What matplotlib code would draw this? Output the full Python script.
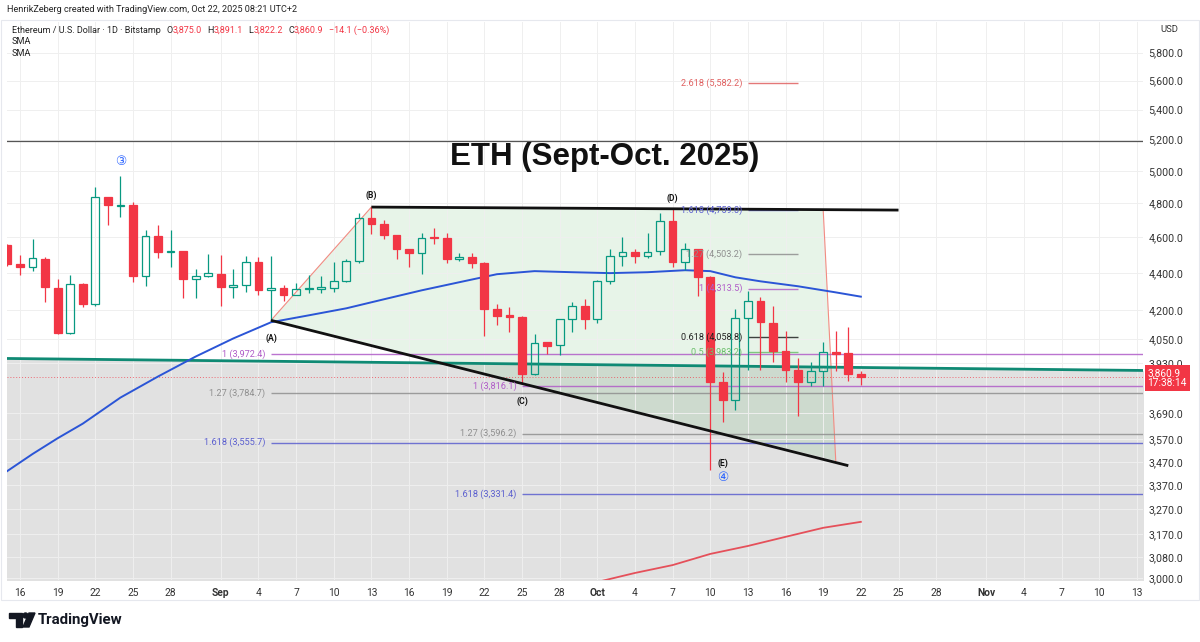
import matplotlib
matplotlib.use('Agg')
import matplotlib.pyplot as plt
import matplotlib.dates as mdates
import matplotlib.transforms as mtransforms
from matplotlib.ticker import FixedLocator, NullLocator, FixedFormatter
from matplotlib.offsetbox import TextArea, HPacker, AnnotationBbox
from matplotlib.patches import Rectangle, Polygon, Circle
import numpy as np
import pandas as pd

plt.rcParams['font.family'] = ['Roboto', 'DejaVu Sans']

# ---------------- data ----------------
dates = pd.date_range('2025-08-15', '2025-10-22', freq='D')
opens = [4554, 4447, 4434, 4477, 4318, 4080, 4340, 4230, 4836, 4786, 4792, 4382, 4608, 4515, 4520, 4368, 4380,
         4395, 4322, 4332, 4458, 4307, 4314, 4280, 4312, 4314, 4318, 4353, 4465, 4713, 4675, 4612, 4532, 4510,
         4603, 4595, 4475, 4490, 4455, 4206, 4175, 4163, 3876, 4033, 4020, 4150, 4220,
         4150, 4355, 4495, 4518, 4495, 4520, 4693, 4460, 4532, 4378, 3835, 3750, 4158, 4248, 4130, 3989, 3895,
         3836, 3892, 3985, 3981, 3875.0]
highs = [4560, 4497, 4588, 4490, 4364, 4386, 4345, 4897, 4840, 4967, 4808, 4643, 4671, 4643, 4522, 4420, 4503,
         4497, 4423, 4495, 4490, 4495, 4332, 4343, 4386, 4383, 4460, 4477, 4745, 4776, 4700, 4615, 4535, 4626,
         4652, 4626, 4512, 4508, 4458, 4232, 4213, 4168, 4072, 4035, 4152, 4243, 4256,
         4358, 4535, 4602, 4532, 4626, 4745, 4766, 4570, 4535, 4380, 3885, 4206, 4300, 4270, 4220, 4092, 3955,
         3932, 4035, 4092, 4111, 3891.1]
lows = [4440, 4386, 4410, 4240, 4075, 4075, 4215, 4222, 4671, 4718, 4347, 4326, 4485, 4433, 4265, 4265, 4378,
        4222, 4265, 4295, 4280, 4140, 4247, 4278, 4287, 4287, 4295, 4348, 4455, 4620, 4592, 4475, 4432, 4392,
        4561, 4453, 4466, 4426, 4064, 4123, 4087, 3832, 3870, 3975, 3970, 4087, 4098,
        4130, 4340, 4440, 4453, 4480, 4500, 4432, 4415, 4272, 3437, 3650, 3703, 3897, 3897, 3932, 3834, 3678,
        3818, 3818, 3890, 3843, 3822.2]
closes = [4449, 4433, 4480, 4322, 4080, 4340, 4230, 4836, 4790, 4792, 4382, 4608, 4517, 4522, 4368, 4380, 4397,
          4320, 4332, 4458, 4305, 4314, 4280, 4310, 4316, 4318, 4353, 4465, 4713, 4680, 4612, 4532, 4510, 4598,
          4598, 4475, 4490, 4455, 4206, 4168, 4161, 3876, 4030, 4016, 4150, 4220, 4150,
          4355, 4492, 4518, 4495, 4518, 4693, 4460, 4532, 4378, 3837, 3750, 4158, 4248, 4135, 3989, 3897, 3836,
          3890, 3985, 3975, 3876, 3860.9]

# SMA (blue) values read at selected dates
sma_blue_dates = ['2025-08-14', '2025-08-17', '2025-08-19', '2025-08-21', '2025-08-24', '2025-08-27', '2025-08-30',
                  '2025-09-02', '2025-09-05', '2025-09-08', '2025-09-11', '2025-09-14', '2025-09-17', '2025-09-20',
                  '2025-09-23', '2025-09-26', '2025-09-29', '2025-10-02', '2025-10-05', '2025-10-08', '2025-10-10',
                  '2025-10-12', '2025-10-14', '2025-10-17', '2025-10-20', '2025-10-22']
sma_blue = [3395, 3505, 3575, 3641, 3762, 3863, 3961, 4052, 4135, 4171, 4208, 4256, 4304, 4348,
            4392, 4409, 4403, 4398, 4403, 4414, 4409, 4375, 4353, 4326, 4293, 4270]
# SMA (red) values read at selected dates
sma_red_dates = ['2025-10-01', '2025-10-04', '2025-10-07', '2025-10-10', '2025-10-13', '2025-10-16', '2025-10-19', '2025-10-22']
sma_red = [2985, 3019, 3049, 3092, 3123, 3159, 3195, 3219]

last_price = 3860.9
y_ticks = [3000, 3080, 3170, 3270, 3370, 3470, 3570, 3690, 3930, 4050, 4200, 4400, 4600, 4800, 5000, 5200, 5400, 5600, 5800]

x_tick_dates = ['2025-08-16', '2025-08-19', '2025-08-22', '2025-08-25', '2025-08-28', '2025-09-01', '2025-09-04',
                '2025-09-07', '2025-09-10', '2025-09-13', '2025-09-16', '2025-09-19', '2025-09-22', '2025-09-25',
                '2025-09-28', '2025-10-01', '2025-10-04', '2025-10-07', '2025-10-10', '2025-10-13', '2025-10-16',
                '2025-10-19', '2025-10-22', '2025-10-25', '2025-10-28', '2025-11-01', '2025-11-04', '2025-11-07',
                '2025-11-10', '2025-11-13']
x_tick_labels = ['16', '19', '22', '25', '28', 'Sep', '4', '7', '10', '13', '16', '19', '22', '25', '28', 'Oct',
                 '4', '7', '10', '13', '16', '19', '22', '25', '28', 'Nov', '4', '7', '10', '13']

# Fibonacci levels: (label, value, start date, end date or None for right edge, kind)
fib_levels = [
    ('1 (3,972.4)', 3972.4, '2025-09-05', None, 'one'),
    ('1.27 (3,784.7)', 3784.7, '2025-09-05', None, 'gray'),
    ('1.618 (3,555.7)', 3555.7, '2025-09-05', None, 'blue'),
    ('1 (3,816.1)', 3816.1, '2025-09-25', None, 'one'),
    ('1.27 (3,596.2)', 3596.2, '2025-09-25', None, 'gray'),
    ('1.618 (3,331.4)', 3331.4, '2025-09-25', None, 'blue'),
    ('2.618 (5,582.2)', 5582.2, '2025-10-13', '2025-10-17', 'red'),
    ('1.618 (4,759.0)', 4759.0, '2025-10-13', '2025-10-17', 'blue'),
    ('1.27 (4,503.2)', 4503.2, '2025-10-13', '2025-10-17', 'gray'),
    ('1 (4,313.5)', 4313.5, '2025-10-13', '2025-10-17', 'one'),
    ('0.618 (4,058.8)', 4058.8, '2025-10-13', '2025-10-17', 'black'),
    ('0.5 (3,983.2)', 3983.2, '2025-10-13', '2025-10-17', 'green'),
]

# pattern points
pt_A = ('2025-09-05', 4145)
pt_B = ('2025-09-13', 4778)
upper_end = ('2025-10-25', 4760)
lower_end = ('2025-10-21', 3454)
tri_top_right = ('2025-10-19', 4761)
tri_bot_right = ('2025-10-20', 3476)
teal_line = (('2025-08-14', 3952), ('2025-11-14', 3892))
res_line = 5191

# ---------------- styles ----------------
UP = '#089981'
DOWN = '#f23645'
fib_colors = {'one': '#b05cc8', 'gray': '#8f8f8f', 'blue': '#5b5fcf', 'red': '#e06060',
              'black': '#222222', 'green': '#6cbf6c'}

def dn(s):
    return mdates.date2num(pd.Timestamp(s))

W, H = 1200, 642
fig = plt.figure(figsize=(12, 6.42), dpi=100)
fig.patch.set_facecolor('white')
ax = fig.add_axes([7 / W, (H - 580) / H, (1143 - 7) / W, (580 - 22) / H])

d16 = dn('2025-08-16')
px_day = 12.55
ax.set_xlim(d16 + (7 - 20) / px_day, d16 + (1143 - 20) / px_day)
ax.set_yscale('log')
ax.set_ylim(3000 * np.exp(-2 / 797), 3000 * np.exp(556 / 797))
xl = ax.get_xlim()

for s in ax.spines.values():
    s.set_visible(False)

# gray region below teal line
(t0d, t0p), (t1d, t1p) = teal_line
ax.fill_between([dn(t0d), dn(t1d)], [t0p, t1p], 2800, color='#e1e1e1', zorder=0.2, lw=0)

# green pattern region
poly = Polygon([(dn(pt_A[0]), pt_A[1]), (dn(pt_B[0]), pt_B[1]), (dn(tri_top_right[0]), tri_top_right[1]),
                (dn(tri_bot_right[0]), tri_bot_right[1])], closed=True, facecolor='#4caf50', alpha=0.13,
               edgecolor='none', zorder=0.3)
ax.add_patch(poly)
ax.plot([dn(pt_A[0]), dn(pt_B[0])], [pt_A[1], pt_B[1]], color='#f28b82', lw=0.8, zorder=1.5)
ax.plot([dn(tri_top_right[0]), dn(tri_bot_right[0])], [tri_top_right[1], tri_bot_right[1]], color='#f28b82', lw=0.8, zorder=1.5)

# grid / ticks
ax.set_axisbelow(True)
ax.yaxis.set_major_locator(FixedLocator(y_ticks))
ax.yaxis.set_minor_locator(NullLocator())
ax.yaxis.set_major_formatter(FixedFormatter([f'{v:,.1f}' for v in y_ticks]))
ax.xaxis.set_major_locator(FixedLocator([dn(d) for d in x_tick_dates]))
ax.xaxis.set_major_formatter(FixedFormatter(x_tick_labels))
ax.grid(True, color='#efefef', lw=0.7)
ax.yaxis.tick_right()
ax.tick_params(axis='y', length=0, pad=4, labelsize=7.7, labelcolor='#333333')
ax.tick_params(axis='x', length=0, pad=6, labelsize=7.4, labelcolor='#333333')
for lab in ax.get_xticklabels():
    if lab.get_text() in ('Sep', 'Oct', 'Nov'):
        lab.set_fontweight('bold')

# horizontal resistance line
ax.axhline(res_line, color='#555555', lw=0.9, zorder=1.6)

# teal trendline
ax.plot([dn(t0d), dn(t1d)], [t0p, t1p], color='#0f8a74', lw=2.0, zorder=2.2)

# current price dotted line
ax.axhline(last_price, color='#f23645', lw=0.7, ls=(0, (1, 2)), alpha=0.7, zorder=1.7)

# fib lines
for label, val, sd, ed, kind in fib_levels:
    c = fib_colors[kind]
    x0 = dn(sd)
    x1 = dn(ed) if ed else xl[1]
    ax.hlines(val, x0, x1, color=c, lw=1.0, alpha=0.85, zorder=1.8)
    ax.annotate(label, xy=(x0, val), xytext=(-4, 0), textcoords='offset points', ha='right', va='center',
                fontsize=6.6, color=c, zorder=5)

# SMAs
ax.plot([dn(d) for d in sma_blue_dates], sma_blue, color='#2b55d6', lw=1.4, zorder=2.5)
ax.plot([dn(d) for d in sma_red_dates], sma_red, color='#e5505a', lw=1.3, zorder=2.5)

# candles
w = 0.62
for d, o, h, l, c in zip(dates, opens, highs, lows, closes):
    x = mdates.date2num(d)
    up = c >= o
    col = UP if up else DOWN
    lo, hi = min(o, c), max(o, c)
    if hi / lo < 1.0016:
        mid = (hi * lo) ** 0.5
        lo, hi = mid / 1.0008, mid * 1.0008
    ax.vlines(x, hi, max(h, hi), color=col, lw=0.9, zorder=3)
    ax.vlines(x, min(l, lo), lo, color=col, lw=0.9, zorder=3)
    ax.add_patch(Rectangle((x - w / 2, lo), w, hi - lo, facecolor=('none' if up else col),
                           edgecolor=col, lw=0.9, zorder=3.1))

# black trendlines
ax.plot([dn(pt_B[0]), dn(upper_end[0])], [pt_B[1], upper_end[1]], color='#111111', lw=2.0, zorder=4,
        solid_capstyle='butt')
ax.plot([dn(pt_A[0]), dn(lower_end[0])], [pt_A[1], lower_end[1]], color='#111111', lw=2.0, zorder=4,
        solid_capstyle='butt')

# wave labels
for txt, d, p in [('(A)', '2025-09-05', 4054), ('(B)', '2025-09-13', 4851), ('(C)', '2025-09-25', 3746),
                  ('(D)', '2025-10-07', 4832), ('(E)', '2025-10-11', 3466)]:
    ax.text(dn(d), p, txt, fontsize=6.2, fontweight='bold', color='#111111', ha='center', va='center', zorder=5)
for txt, d, p in [('③', '2025-08-24', 5057), ('④', '2025-10-11', 3405)]:
    ax.text(dn(d), p, txt, fontsize=9, color='#2962ff', ha='center', va='center', zorder=5,
            family=['DejaVu Sans'])

# last price box on axis
btr = mtransforms.blended_transform_factory(ax.transAxes, ax.transData)
ax.text(1.004, last_price * 0.9985, '3,860.9\n17:38:14', transform=btr, ha='left', va='center', fontsize=7.3,
        color='white', linespacing=1.05, zorder=6, clip_on=False,
        bbox=dict(boxstyle='square,pad=0.3', fc='#f23645', ec='none'))

# title
fig.text(605 / W, 1 - 157 / H, 'ETH (Sept-Oct. 2025)', ha='center', va='center', fontsize=22.5,
         fontweight='bold', color='#111111', family=['Liberation Sans', 'DejaVu Sans'])

# header texts
fig.text(7 / W, 1 - 10 / H, 'HenrikZeberg created with TradingView.com, Oct 22, 2025 08:21 UTC+2',
         fontsize=6.6, color='#222222', ha='left', va='center')
fig.text(1160 / W, 1 - 30 / H, 'USD', fontsize=6.8, color='#333333', ha='left', va='center')
fig.text(12 / W, 1 - 42 / H, 'SMA', fontsize=6.6, color='#222222', ha='left', va='center')
fig.text(12 / W, 1 - 54 / H, 'SMA', fontsize=6.6, color='#222222', ha='left', va='center')

fs = 6.5
def ta(s, c):
    return TextArea(s, textprops=dict(fontsize=fs, color=c))
blk, red = '#222222', '#f23645'
parts = [ta('Ethereum / U.S. Dollar · 1D · Bitstamp', blk)]
for k, v in [('O', '3,875.0'), ('H', '3,891.1'), ('L', '3,822.2'), ('C', '3,860.9')]:
    parts.append(HPacker(children=[ta(k, blk), ta(v, red)], sep=0, pad=0))
parts.append(ta('−14.1 (−0.36%)', red))
hp = HPacker(children=parts, sep=4, pad=0, align='baseline')
ab = AnnotationBbox(hp, (12, H - 30), xycoords='figure pixels', box_alignment=(0, 0.5), frameon=False, pad=0)
fig.add_artist(ab)

# panel border
tpx = mtransforms.Affine2D().scale(1 / W, 1 / H) + fig.transFigure
fig.add_artist(Rectangle((1, H - 600), 1198, 580, transform=tpx, fill=False, edgecolor='#e6e8ee', lw=0.8))

# TradingView logo
fig.add_artist(Polygon([(9, H - 613), (22, H - 613), (22, H - 627), (16, H - 627), (16, H - 618), (9, H - 618)],
                       closed=True, transform=tpx, color='#131722'))
fig.add_artist(Circle((25.5, H - 615.5), 2.5, transform=tpx, color='#131722'))
fig.add_artist(Polygon([(29, H - 613), (35, H - 613), (29, H - 627), (23, H - 627)], closed=True,
                       transform=tpx, color='#131722'))
fig.text(38 / W, 1 - 620 / H, 'TradingView', fontsize=10.8, fontweight='semibold', color='#131722',
         ha='left', va='center')

fig.savefig('out.png', dpi=100)
